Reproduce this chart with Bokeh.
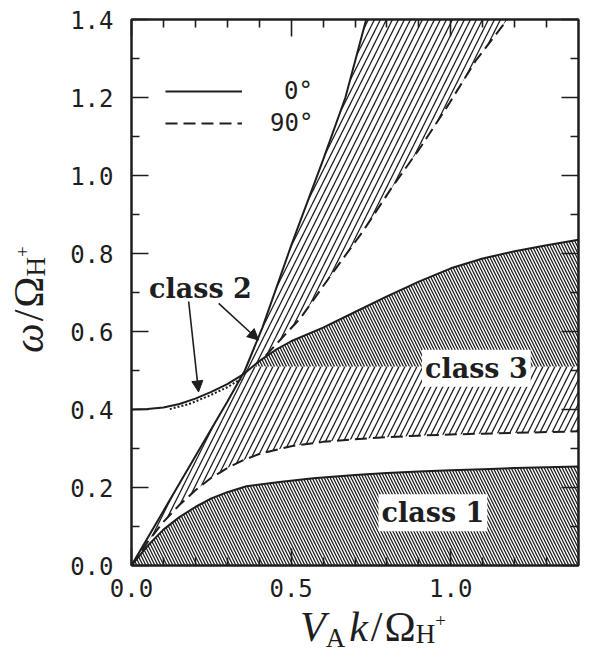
import numpy as np
from bokeh.plotting import figure
from bokeh.layouts import row, column
from bokeh.models import (FixedTicker, LinearAxis, Range1d, PrintfTickFormatter,
                          CustomJSTickFormatter, Label, Arrow, NormalHead, Legend,
                          LegendItem, Div)
from bokeh.embed import file_html
from bokeh.resources import INLINE

# ---------------- data ----------------
# 0 deg, upper class-2/3 boundary (starts at 0.4)
A_k = [0.0, 0.05, 0.1, 0.15, 0.2, 0.25, 0.3, 0.35, 0.4, 0.45, 0.5, 0.6, 0.7,
       0.8, 0.9, 1.0, 1.1, 1.2, 1.3, 1.4]
A_w = [0.400, 0.401, 0.405, 0.414, 0.428, 0.445, 0.465, 0.490, 0.524, 0.552,
       0.575, 0.610, 0.650, 0.690, 0.728, 0.762, 0.787, 0.806, 0.821, 0.835]
# 0 deg, steep class-2 boundary from origin
B_k = [0.0, 0.1, 0.2, 0.3, 0.355, 0.41, 0.5, 0.6, 0.67, 0.735]
B_w = [0.0, 0.14, 0.28, 0.42, 0.50, 0.61, 0.82, 1.04, 1.20, 1.40]
# 90 deg, steep class-2 boundary
C_k = [0.42, 0.53, 0.627, 0.724, 0.812, 0.909, 0.996, 1.077, 1.177]
C_w = [0.538, 0.635, 0.747, 0.856, 0.965, 1.077, 1.186, 1.293, 1.40]
# 90 deg, lower class-3 boundary
D_k = [0.0, 0.05, 0.1, 0.15, 0.2, 0.25, 0.3, 0.35, 0.4, 0.5, 0.6, 0.7, 0.8,
       0.9, 1.0, 1.1, 1.2, 1.3, 1.4]
D_w = [0.0, 0.06, 0.112, 0.155, 0.193, 0.225, 0.25, 0.27, 0.286, 0.306, 0.317,
       0.324, 0.329, 0.333, 0.336, 0.338, 0.34, 0.342, 0.344]
# 0 deg, class-1 upper boundary
E_k = [0.0, 0.05, 0.1, 0.15, 0.2, 0.25, 0.3, 0.36, 0.47, 0.57, 0.7, 0.8, 0.9,
       1.0, 1.1, 1.2, 1.3, 1.4]
E_w = [0.0, 0.05, 0.092, 0.124, 0.15, 0.172, 0.188, 0.203, 0.215, 0.224, 0.232,
       0.237, 0.241, 0.244, 0.247, 0.25, 0.252, 0.254]
# 90 deg, thin class-2 band just below A
band_k = [0.12, 0.18, 0.24, 0.30, 0.35]
band_w = [0.401, 0.414, 0.434, 0.457, 0.482]
# split between the 0 deg and 90 deg class-3 hatching
CLASS3_SPLIT = 0.51

X_TICKS = [0.0, 0.5, 1.0]
X_MINOR = [0.1, 0.2, 0.3, 0.4, 0.6, 0.7, 0.8, 0.9, 1.1, 1.2, 1.3]
Y_TICKS = [0.0, 0.2, 0.4, 0.6, 0.8, 1.0, 1.2, 1.4]
Y_MINOR = [0.1, 0.3, 0.5, 0.7, 0.9, 1.1, 1.3]

class_labels = ["class 1", "class 2", "class 3"]
class_x = [0.944, 0.216, 1.08]
class_y = [0.135, 0.71, 0.506]
arrow_start = [(0.179, 0.677), (0.273, 0.672)]
arrow_end = [(0.21, 0.445), (0.398, 0.578)]
legend_labels = ["0°", "90°"]

INK = "#1e1e1e"
SERIF = "'Liberation Serif', serif"

p = figure(width=537, height=610, x_range=Range1d(0, 1.4), y_range=Range1d(0, 1.4),
           output_backend="svg", toolbar_location=None,
           x_axis_location=None, y_axis_location=None,
           min_border_left=81, min_border_right=9, min_border_top=19, min_border_bottom=45)
p.xgrid.visible = False
p.ygrid.visible = False
p.outline_line_color = INK
p.outline_line_width = 2
p.background_fill_color = "white"


def make_axis(ticks, minor, show_labels, standoff=18):
    ax = LinearAxis(ticker=FixedTicker(ticks=ticks, minor_ticks=minor))
    ax.major_tick_in = 17
    ax.major_tick_out = 0
    ax.minor_tick_in = 8
    ax.minor_tick_out = 0
    ax.axis_line_color = INK
    ax.axis_line_width = 2
    ax.major_tick_line_color = INK
    ax.major_tick_line_width = 1.6
    ax.minor_tick_line_color = INK
    ax.minor_tick_line_width = 1.6
    if show_labels:
        ax.formatter = PrintfTickFormatter(format="%.1f")
        ax.major_label_text_font = "DejaVu Sans Mono"
        ax.major_label_text_font_size = "24px"
        ax.major_label_text_color = INK
        ax.major_label_standoff = standoff
    else:
        ax.formatter = CustomJSTickFormatter(code="return ''")
        ax.major_label_text_font_size = "0px"
        ax.major_label_standoff = 0
    return ax


p.add_layout(make_axis(X_TICKS, X_MINOR, True, 13), "below")
p.add_layout(make_axis(X_TICKS, X_MINOR, False), "above")
p.add_layout(make_axis(Y_TICKS, Y_MINOR, True, 18), "left")
p.add_layout(make_axis(Y_TICKS, Y_MINOR, False), "right")

# ---------------- hatched regions ----------------
# class 1 (0 deg): below E
p.varea(x=E_k, y1=[0.0] * len(E_k), y2=E_w, fill_color=None, fill_alpha=0,
        hatch_pattern="\\", hatch_scale=6, hatch_weight=1.3, hatch_color=INK)

# class 3 (0 deg): between split and A
k_split = float(np.interp(CLASS3_SPLIT, A_w, A_k))
d3_x = [k_split] + [k for k in A_k if k > k_split]
d3_top = [CLASS3_SPLIT] + [w for k, w in zip(A_k, A_w) if k > k_split]
p.varea(x=d3_x, y1=[CLASS3_SPLIT] * len(d3_x), y2=d3_top, fill_color=None, fill_alpha=0,
        hatch_pattern="\\", hatch_scale=6, hatch_weight=1.3, hatch_color=INK)

# class 2 + class 3 (90 deg): sparse hatching
seg = [(k, w) for k, w in zip(A_k, A_w) if k_split < k < C_k[0]][::-1]
sp_x = (B_k + C_k[::-1] + [s[0] for s in seg] + [k_split, 1.4] + D_k[::-1])
sp_y = (B_w + C_w[::-1] + [s[1] for s in seg] + [CLASS3_SPLIT, CLASS3_SPLIT] + D_w[::-1])
p.patch(x=sp_x, y=sp_y, fill_color=None, fill_alpha=0, line_color=None,
        hatch_pattern="/", hatch_scale=12, hatch_weight=1.3, hatch_color=INK)

# ---------------- curves ----------------
rA = p.line(A_k, A_w, line_color=INK, line_width=2)
p.line(B_k, B_w, line_color=INK, line_width=2)
p.line(E_k, E_w, line_color=INK, line_width=2)
rD = p.line(D_k, D_w, line_color=INK, line_width=2, line_dash="12 6")
p.line(C_k, C_w, line_color=INK, line_width=2, line_dash="12 6")
p.line(band_k, band_w, line_color=INK, line_width=2, line_dash="2 2")

# ---------------- legend (one per row, so the texts end at the same place) ----------------
leg_common = dict(glyph_width=77, glyph_height=24, label_height=24, spacing=0,
                  padding=0, margin=0, border_line_color=None, background_fill_alpha=0,
                  label_text_font="DejaVu Sans Mono", label_text_font_size="24px",
                  label_text_color=INK)
p.add_layout(Legend(items=[LegendItem(label=legend_labels[0], renderers=[rA])],
                    location=(34, 460), label_standoff=42, **leg_common))
p.add_layout(Legend(items=[LegendItem(label=legend_labels[1], renderers=[rD])],
                    location=(34, 428), label_standoff=28, **leg_common))

# ---------------- class labels & arrows ----------------
for t, x, y in zip(class_labels, class_x, class_y):
    p.add_layout(Label(x=x, y=y, text=t, text_align="center", text_baseline="middle",
                       text_font="DejaVu Serif", text_font_style="bold",
                       text_font_size="27px", text_color=INK,
                       background_fill_color="white", padding=3))

for (x0, y0), (x1, y1) in zip(arrow_start, arrow_end):
    p.add_layout(Arrow(x_start=x0, y_start=y0, x_end=x1, y_end=y1,
                       line_color=INK, line_width=1.6,
                       end=NormalHead(size=11, fill_color=INK, line_color=INK)))

# ---------------- axis titles as HTML text ----------------
x_title = (
    f'<div style="position:relative;width:587px;height:46px;">'
    f'<span style="position:absolute;left:300px;top:-4px;font-family:{SERIF};'
    f'font-size:42px;line-height:1;white-space:nowrap;color:{INK};">'
    f'<i>V</i><span style="font-size:27px;position:relative;top:6px;">A</span>'
    f'<i style="margin-left:4px;">k</i><span style="margin-left:3px;">/</span>'
    f'<span style="margin-left:2px;">Ω</span>'
    f'<span style="font-size:27px;position:relative;top:2px;">H</span>'
    f'<span style="font-size:19px;position:relative;top:-14px;">+</span>'
    f'</span></div>'
)
y_title = (
    f'<div style="position:relative;width:50px;height:610px;">'
    f'<span style="position:absolute;left:8px;top:353px;transform-origin:0 0;'
    f'transform:rotate(-90deg);font-family:{SERIF};font-size:42px;line-height:1;'
    f'white-space:nowrap;color:{INK};">'
    f'<i>ω</i><span style="margin-left:2px;">/</span>'
    f'<span style="margin-left:2px;">Ω</span>'
    f'<span style="font-size:27px;position:relative;top:2px;">H</span>'
    f'<span style="font-size:19px;position:relative;top:-14px;">+</span>'
    f'</span></div>'
)
xdiv = Div(text=x_title, width=587, height=46, margin=0)
ydiv = Div(text=y_title, width=50, height=610, margin=0)

layout = column(row(ydiv, p, spacing=0), xdiv, spacing=0)

open("out.html", "w").write(file_html(layout, INLINE))
